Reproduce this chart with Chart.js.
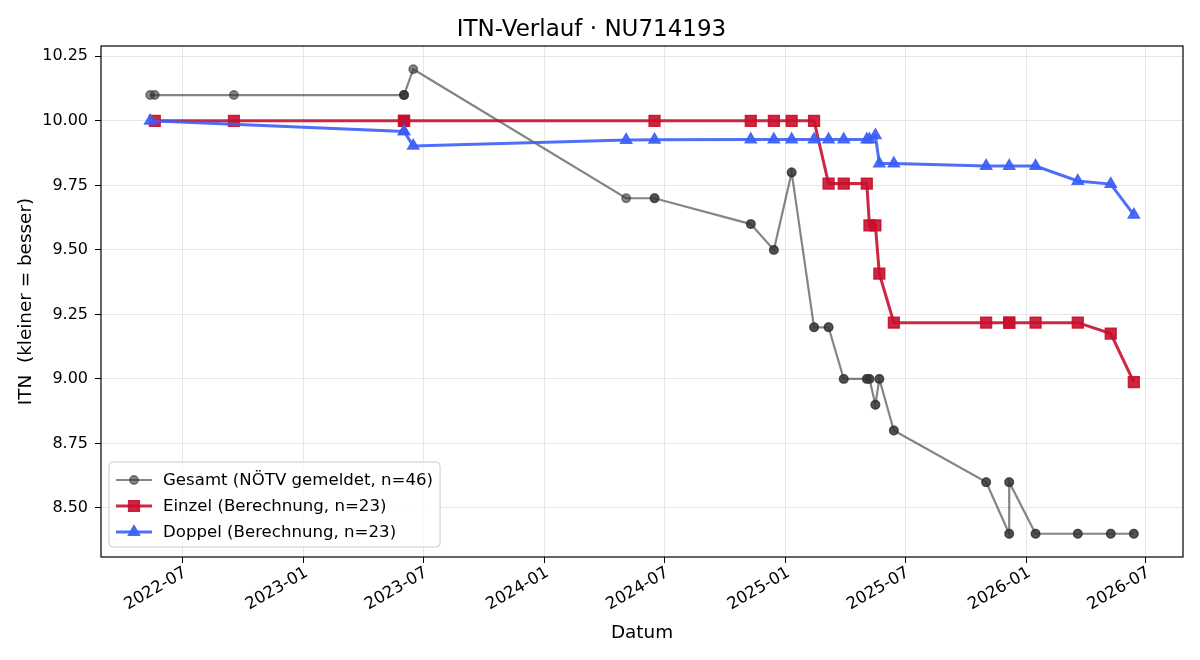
<!DOCTYPE html>
<html>
<head>
<meta charset="utf-8">
<script src="https://cdn.jsdelivr.net/npm/chart.js@4.4.1/dist/chart.umd.min.js"></script>
<style>
  html, body { margin: 0; padding: 0; background: #fff; }
  #wrap { width: 1200px; height: 660px; }
</style>
</head>
<body>
<div id="wrap"><canvas id="itnChart" width="1200" height="660"></canvas></div>
<script>
// Gesamt (reported ITN)
const gesamtDates = [
  '2022-05-13', '2022-05-20', '2022-09-17', '2023-06-02', '2023-06-02', '2023-06-02',
  '2023-06-16', '2024-05-04', '2024-06-16', '2024-06-16', '2024-11-09', '2024-11-09',
  '2024-12-14', '2024-12-14', '2025-01-10', '2025-01-10', '2025-02-13', '2025-02-13',
  '2025-03-07', '2025-03-07', '2025-03-30', '2025-03-30', '2025-05-04', '2025-05-04',
  '2025-05-08', '2025-05-08', '2025-05-17', '2025-05-17', '2025-05-23', '2025-05-23',
  '2025-06-14', '2025-06-14', '2025-11-01', '2025-11-01', '2025-12-06', '2025-12-06',
  '2025-12-06', '2025-12-06', '2026-01-15', '2026-01-15', '2026-03-20', '2026-03-20',
  '2026-05-09', '2026-05-09', '2026-06-13', '2026-06-13'
];
const gesamtItn = [
  10.1, 10.1, 10.1, 10.1, 10.1, 10.1,
  10.2, 9.7, 9.7, 9.7, 9.6, 9.6,
  9.5, 9.5, 9.8, 9.8, 9.2, 9.2,
  9.2, 9.2, 9.0, 9.0, 9.0, 9.0,
  9.0, 9.0, 8.9, 8.9, 9.0, 9.0,
  8.8, 8.8, 8.6, 8.6, 8.4, 8.4,
  8.6, 8.6, 8.4, 8.4, 8.4, 8.4,
  8.4, 8.4, 8.4, 8.4
];

// Einzel (calculated)
const einzelDates = [
  '2022-05-20', '2022-09-17', '2023-06-02', '2023-06-02', '2024-06-16', '2024-11-09',
  '2024-12-14', '2025-01-10', '2025-02-13', '2025-03-07', '2025-03-30', '2025-05-04',
  '2025-05-08', '2025-05-17', '2025-05-23', '2025-06-14', '2025-11-01', '2025-12-06',
  '2025-12-06', '2026-01-15', '2026-03-20', '2026-05-09', '2026-06-13'
];
const einzelItn = [
  10.0, 10.0, 10.0, 10.0, 10.0, 10.0,
  10.0, 10.0, 10.0, 9.757, 9.757, 9.757,
  9.595, 9.595, 9.408, 9.218, 9.218, 9.218,
  9.218, 9.218, 9.218, 9.176, 8.988
];

// Doppel (calculated)
const doppelDates = [
  '2022-05-13', '2023-06-02', '2023-06-02', '2023-06-16', '2024-05-04', '2024-06-16',
  '2024-11-09', '2024-12-14', '2025-01-10', '2025-02-13', '2025-03-07', '2025-03-30',
  '2025-05-04', '2025-05-08', '2025-05-17', '2025-05-23', '2025-06-14', '2025-11-01',
  '2025-12-06', '2026-01-15', '2026-03-20', '2026-05-09', '2026-06-13'
];
const doppelItn = [
  10.0, 9.959, 9.959, 9.903, 9.926, 9.927,
  9.928, 9.928, 9.928, 9.928, 9.928, 9.928,
  9.928, 9.928, 9.944, 9.835, 9.835, 9.825,
  9.825, 9.825, 9.767, 9.755, 9.636
];

const xTickLabels = ['2022-07', '2023-01', '2023-07', '2024-01', '2024-07', '2025-01', '2025-07', '2026-01', '2026-07'];
const yTicks = [8.5, 8.75, 9.0, 9.25, 9.5, 9.75, 10.0, 10.25];

const FONT = "'DejaVu Sans', 'Liberation Sans', sans-serif";
Chart.defaults.font.family = FONT;
Chart.defaults.color = '#000';

const toMs = s => Date.UTC(+s.slice(0, 4), +s.slice(5, 7) - 1, s.length > 7 ? +s.slice(8, 10) : 1);
const pts = (dates, vals) => dates.map((d, i) => ({ x: toMs(d), y: vals[i] }));

// matplotlib-like 5% margins
const allX = [...gesamtDates, ...einzelDates, ...doppelDates].map(toMs);
const allY = [...gesamtItn, ...einzelItn, ...doppelItn];
const xMin = Math.min(...allX), xMax = Math.max(...allX);
const yMin = Math.min(...allY), yMax = Math.max(...allY);
const xPad = (xMax - xMin) * 0.05, yPad = (yMax - yMin) * 0.05;

const GREY = 'rgba(51,51,51,0.6)';
const RED = 'rgba(200,16,46,0.9)';
const BLUE = 'rgba(60,95,245,0.9)';

const frameAndLegend = {
  id: 'frameAndLegend',
  afterDraw(chart) {
    const { ctx, chartArea: a } = chart;
    ctx.save();
    ctx.strokeStyle = '#000';
    ctx.lineWidth = 1.2;
    ctx.strokeRect(a.left, a.top, a.right - a.left, a.bottom - a.top);

    // legend box, lower left inside the axes
    const ds = chart.data.datasets;
    ctx.font = '16.6px ' + FONT;
    const tw = Math.max(...ds.map(d => ctx.measureText(d.label).width));
    const bx = a.left + 8, bh = 85, by = a.bottom - 10 - bh, bw = 54 + tw + 7;
    ctx.beginPath();
    if (ctx.roundRect) ctx.roundRect(bx, by, bw, bh, 4); else ctx.rect(bx, by, bw, bh);
    ctx.fillStyle = 'rgba(255,255,255,0.8)';
    ctx.fill();
    ctx.strokeStyle = '#cccccc';
    ctx.lineWidth = 1;
    ctx.stroke();

    ds.forEach((d, i) => {
      const cy = by + 18 + i * 26;
      ctx.strokeStyle = d.borderColor;
      ctx.lineWidth = d.borderWidth;
      ctx.beginPath();
      ctx.moveTo(bx + 7, cy);
      ctx.lineTo(bx + 43, cy);
      ctx.stroke();
      ctx.fillStyle = d.pointBackgroundColor;
      ctx.strokeStyle = d.pointBorderColor;
      ctx.lineWidth = d.pointBorderWidth;
      Chart.helpers.drawPoint(ctx, {
        pointStyle: d.pointStyle, radius: d.pointRadius, borderWidth: d.pointBorderWidth, rotation: 0
      }, bx + 25, cy);
      ctx.fillStyle = '#000';
      ctx.textBaseline = 'middle';
      ctx.textAlign = 'left';
      ctx.fillText(d.label, bx + 54, cy + 1);
    });
    ctx.restore();
  }
};

new Chart(document.getElementById('itnChart'), {
  type: 'line',
  data: {
    datasets: [{
      label: 'Gesamt (NÖTV gemeldet, n=46)',
      data: pts(gesamtDates, gesamtItn),
      borderColor: GREY,
      backgroundColor: GREY,
      pointBackgroundColor: GREY,
      pointBorderColor: GREY,
      borderWidth: 2.2,
      pointStyle: 'circle',
      pointRadius: 4.2,
      pointBorderWidth: 1.5,
      order: 3
    }, {
      label: 'Einzel (Berechnung, n=23)',
      data: pts(einzelDates, einzelItn),
      borderColor: RED,
      backgroundColor: RED,
      pointBackgroundColor: RED,
      pointBorderColor: RED,
      borderWidth: 3,
      pointStyle: 'rect',
      pointRadius: 7.6,
      pointBorderWidth: 1.5,
      order: 2
    }, {
      label: 'Doppel (Berechnung, n=23)',
      data: pts(doppelDates, doppelItn),
      borderColor: BLUE,
      backgroundColor: BLUE,
      pointBackgroundColor: BLUE,
      pointBorderColor: BLUE,
      borderWidth: 3,
      pointStyle: 'triangle',
      pointRadius: 6.4,
      pointBorderWidth: 1.5,
      order: 1
    }]
  },
  options: {
    responsive: false,
    animation: false,
    devicePixelRatio: 1,
    layout: { padding: { left: 0, right: 17, top: 0, bottom: 0 } },
    elements: { line: { tension: 0, fill: false } },
    scales: {
      x: {
        type: 'linear',
        min: xMin - xPad,
        max: xMax + xPad,
        afterBuildTicks: s => { s.ticks = xTickLabels.map(l => ({ value: toMs(l) })); },
        afterFit: s => { s.height = 103; },
        ticks: {
          autoSkip: false,
          minRotation: 30,
          maxRotation: 30,
          padding: 0,
          labelOffset: 3,
          color: '#000',
          font: { size: 16.5 },
          callback: (v, i) => xTickLabels[i]
        },
        grid: { color: '#e6e6e6', lineWidth: 1, tickColor: '#000', tickLength: 6 },
        border: { display: false },
        title: { display: true, text: 'Datum', color: '#000', font: { size: 18.4 }, padding: { top: 0, bottom: 16 } }
      },
      y: {
        type: 'linear',
        min: yMin - yPad,
        max: yMax + yPad,
        afterBuildTicks: s => { s.ticks = yTicks.map(v => ({ value: v })); },
        afterFit: s => { s.width = 101; },
        ticks: {
          padding: 7,
          color: '#000',
          font: { size: 16 },
          callback: v => Number(v).toFixed(2)
        },
        grid: { color: '#e6e6e6', lineWidth: 1, tickColor: '#000', tickLength: 6 },
        border: { display: false },
        title: { display: true, text: 'ITN  (kleiner = besser)', color: '#000', font: { size: 18.4 }, padding: { top: 15.5, bottom: 0 } }
      }
    },
    plugins: {
      legend: { display: false },
      tooltip: { enabled: false },
      title: {
        display: true,
        text: 'ITN-Verlauf · NU714193',
        color: '#000',
        font: { size: 23, weight: 'normal' },
        padding: { top: 16, bottom: 2.4 }
      }
    }
  },
  plugins: [frameAndLegend]
});
</script>
</body>
</html>
